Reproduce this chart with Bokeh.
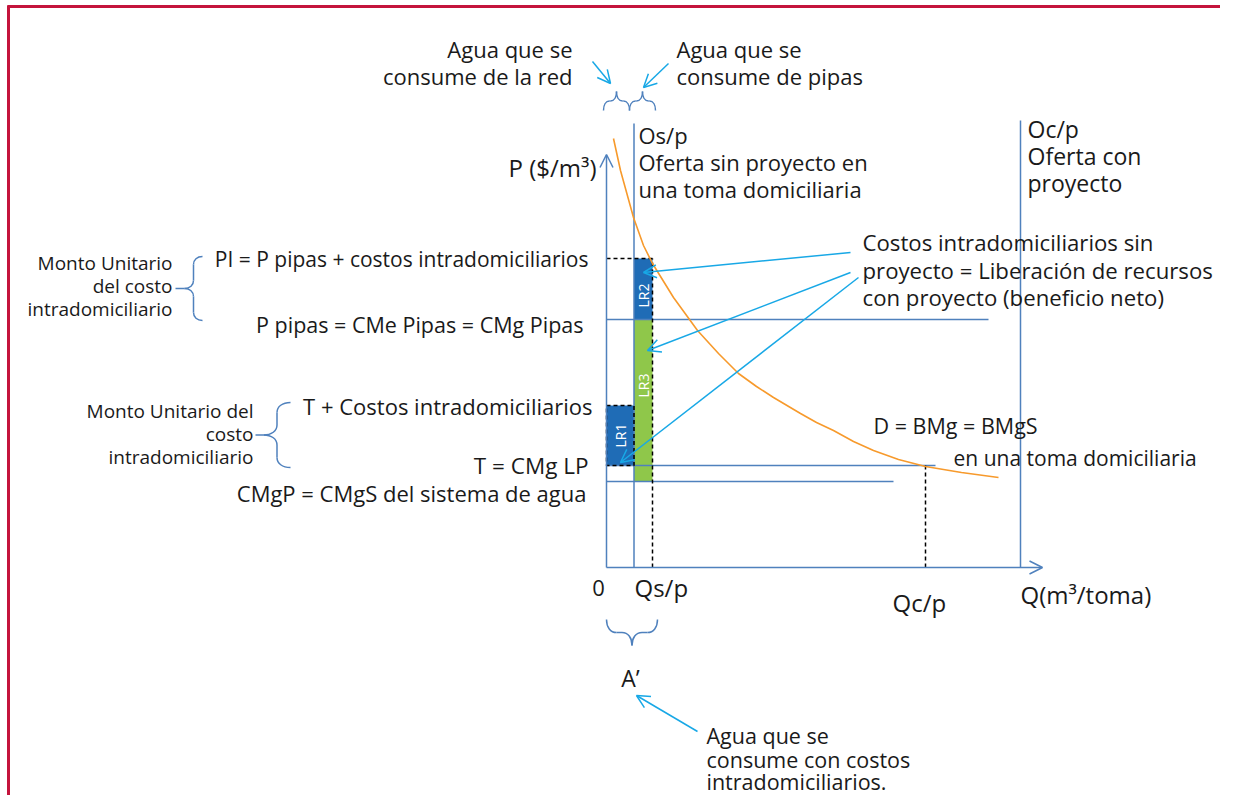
import math
from bokeh.plotting import figure
from bokeh.models import Range1d, Arrow, OpenHead, ColumnDataSource
from bokeh.core.properties import value
from bokeh.embed import file_html
from bokeh.resources import INLINE

# ---------------- data (economic diagram, arbitrary units) ----------------
# quantities
Q_SP = 27.5        # Os/p : supply without project
Q_PI = 46          # quantity at PI
Q_CP = 319         # Qc/p
Q_OCP = 414        # Oc/p : supply with project
Q_AXIS_END = 436
P_AXIS_END = 413

# price levels
price_names = ["PI", "P pipas", "T + costos", "T", "CMgP"]
price_values = [309, 248, 162, 102, 86]
price_line_ends = [None, 382, None, 329, 287]

# demand curve D = BMg = BMgS
demand_q = [7, 14, 27, 37, 46, 67, 91, 112, 132, 150, 167, 194, 210, 227, 247, 267, 292, 319, 355, 392]
demand_p = [429, 397, 350, 322, 304, 270, 237, 214, 194, 181, 170, 154, 145, 137, 126, 117, 108, 101, 95, 90]

# benefit bars (LR1, LR2, LR3)
bar_labels = ["LR1", "LR2", "LR3"]
bar_left = [0, Q_SP, Q_SP]
bar_right = [Q_SP, Q_PI, Q_PI]
bar_bottom = [102, 248, 86]
bar_top = [162, 309, 248]
bar_colors = ["#1F6CB6", "#1F6CB6", "#8FC74A"]
bar_label_y = [132, 272, 182]

BLUE = "#4F81BD"
ORANGE = "#F79A2C"
CYAN = "#18A8E6"
TXT = "#1A1A1A"
FONT = "Open Sans"

p = figure(width=1220, height=795, x_range=Range1d(-606, 614), y_range=Range1d(-228, 567),
           min_border=0, toolbar_location=None, output_backend="svg",
           x_axis_type=None, y_axis_type=None)
p.grid.visible = False
p.outline_line_color = None
p.background_fill_color = "white"

# page border (crimson)
p.segment(x0=[-599], y0=[561], x1=[614], y1=[561], line_color="#C4143C", line_width=3)
p.segment(x0=[-598], y0=[-228], x1=[-598], y1=[562], line_color="#C4143C", line_width=3)

# bars
p.quad(left=bar_left, right=bar_right, bottom=bar_bottom, top=bar_top,
       fill_color=bar_colors, line_color=None)

# horizontal price lines (blue)
p.segment(x0=[0, 0, 0], y0=[price_values[1], price_values[3], price_values[4]],
          x1=[price_line_ends[1], price_line_ends[3], price_line_ends[4]],
          y1=[price_values[1], price_values[3], price_values[4]],
          line_color=BLUE, line_width=1.5)

# supply lines (vertical)
p.segment(x0=[Q_SP, Q_OCP], y0=[0, 0], x1=[Q_SP, Q_OCP], y1=[444, 447],
          line_color=BLUE, line_width=1.5)

# dashed lines
p.segment(x0=[0, Q_PI, Q_CP], y0=[price_values[0], 0, 0],
          x1=[Q_PI, Q_PI, Q_CP], y1=[price_values[0], price_values[0], price_values[3]],
          line_color="black", line_width=1.5, line_dash="4 3")
p.quad(left=[bar_left[0]], right=[bar_right[0]], bottom=[bar_bottom[0]], top=[bar_top[0]],
       fill_color=None, line_color="black", line_width=1.5, line_dash="4 3")

# demand curve
p.line(demand_q, demand_p, line_color=ORANGE, line_width=1.6)

# axes with open arrow heads
axes = ColumnDataSource(dict(xs=[0, 0], ys=[0, 0], xe=[0, Q_AXIS_END], ye=[P_AXIS_END, 0]))
p.add_layout(Arrow(end=OpenHead(size=13, line_color=BLUE, line_width=1.5),
                   x_start="xs", y_start="ys", x_end="xe", y_end="ye", source=axes,
                   line_color=BLUE, line_width=1.5))

# cyan pointer arrows
arr = ColumnDataSource(dict(
    xs=[244, 244, 252, -14, 62, 91],
    ys=[315, 295, 290, 506, 504, -164],
    xe=[37, 41, 14, 4, 37, 30],
    ye=[295, 217, 105, 484, 480, -128]))
p.add_layout(Arrow(end=OpenHead(size=13, line_color=CYAN, line_width=1.5),
                   x_start="xs", y_start="ys", x_end="xe", y_end="ye", source=arr,
                   line_color=CYAN, line_width=1.5))

# curly braces
bx0, by0, bx1, by1, bcx0, bcy0, bcx1, bcy1 = [], [], [], [], [], [], [], []
lx0, ly0, lx1, ly1 = [], [], [], []


def brace(x1, y1, x2, y2, nx, ny, depth, r):
    L = math.hypot(x2 - x1, y2 - y1)
    ux, uy = (x2 - x1) / L, (y2 - y1) / L
    h = depth / 2.0

    def P(s, t):
        return (x1 + ux * s + nx * t, y1 + uy * s + ny * t)
    m = L / 2.0
    curves = [
        [(0, 0), (0, h * 0.6), (r * 0.4, h), (r, h)],
        [(m - r, h), (m - r * 0.4, h), (m, h * 1.4), (m, 2 * h)],
        [(m, 2 * h), (m, h * 1.4), (m + r * 0.4, h), (m + r, h)],
        [(L - r, h), (L - r * 0.4, h), (L, h * 0.6), (L, 0)],
    ]
    for a, c0, c1, b in curves:
        A, C0, C1, B = P(*a), P(*c0), P(*c1), P(*b)
        bx0.append(A[0]); by0.append(A[1]); bx1.append(B[0]); by1.append(B[1])
        bcx0.append(C0[0]); bcy0.append(C0[1]); bcx1.append(C1[0]); bcy1.append(C1[1])
    for s0, s1 in [(r, m - r), (m + r, L - r)]:
        if s1 > s0:
            A, B = P(s0, h), P(s1, h)
            lx0.append(A[0]); ly0.append(A[1]); lx1.append(B[0]); ly1.append(B[1])


brace(-404, 311, -404, 247, -1, 0, 18, 8)
brace(-316, 165, -316, 100, -1, 0, 27, 10)
brace(-3, 457, 23, 457, 0, 1, 19, 6)
brace(23, 457, 49, 457, 0, 1, 19, 6)
brace(0, -52, 51, -52, 0, -1, 26, 10)
# connectors from labels to brace tips
lx0 += [-431, -351]; ly0 += [279, 132.5]; lx1 += [-422, -343]; ly1 += [279, 132.5]

p.bezier(x0=bx0, y0=by0, x1=bx1, y1=by1, cx0=bcx0, cy0=bcy0, cx1=bcx1, cy1=bcy1,
         line_color=BLUE, line_width=1.5)
p.segment(x0=lx0, y0=ly0, x1=lx1, y1=ly1, line_color=BLUE, line_width=1.5)

# bar labels (rotated, white)
p.text(x=[(l + r) / 2 for l, r in zip(bar_left, bar_right)], y=bar_label_y, text=bar_labels,
       angle=math.pi / 2, text_color="white", text_font=value(FONT), text_font_size="14px",
       text_align="center", text_baseline="middle")

# text labels: (text, x, y, size)
left_labels = [
    ("Agua que se", 70, 519, 22), ("consume de pipas", 70, 492, 22),
    ("Os/p", 32, 433, 22), ("Oferta sin proyecto en", 32, 406, 22), ("una toma domiciliaria", 32, 379, 22),
    ("Oc/p", 421, 439, 23), ("Oferta con", 421, 412, 23), ("proyecto", 421, 385, 23),
    ("Costos intradomiciliarios sin", 256, 325, 22.2), ("proyecto = Liberación de recursos", 256, 297, 22.2),
    ("con proyecto (beneficio neto)", 256, 270, 22.2),
    ("D = BMg = BMgS", 267, 142, 21.5), ("en una toma domiciliaria", 347, 110, 21),
    ("Qs/p", 28, -20, 24), ("Qc/p", 286, -35, 24), ("Q(m³/toma)", 414, -27, 24),
    ("Agua que se", 100, -168, 21.5), ("consume con costos", 100, -192, 21.5),
    ("intradomiciliarios.", 100, -214, 21.5),
]
right_labels = [
    ("Agua que se", -34, 519, 22), ("consume de la red", -34, 492, 22), ("P ($/m³)", -10, 400, 24),
    ("PI = P pipas + costos intradomiciliarios", -18, 309, 21),
    ("P pipas = CMe Pipas = CMg Pipas", -23, 243, 21.5),
    ("T + Costos intradomiciliarios", -14, 162, 22), ("T = CMg LP", -18, 102, 22.5),
    ("CMgP = CMgS del sistema de agua", -20, 75, 22),
    ("Monto Unitario", -434, 305, 19), ("del costo", -434, 282, 19), ("intradomiciliario", -434, 259, 19),
    ("Monto Unitario del", -353, 157, 19), ("costo", -353, 134, 19), ("intradomiciliario", -353, 111, 19),
]
center_labels = [("0", -8, -20, 22), ("A’", 24, -110, 23)]

for labels, align in [(left_labels, "left"), (right_labels, "right"), (center_labels, "center")]:
    src = ColumnDataSource(dict(text=[t[0] for t in labels], x=[t[1] for t in labels],
                                y=[t[2] for t in labels], size=["%spx" % t[3] for t in labels]))
    p.text(x="x", y="y", text="text", source=src, text_color=TXT, text_font=value(FONT),
           text_font_size="size", text_align=align, text_baseline="middle")

open("out.html", "w").write(file_html(p, INLINE))
